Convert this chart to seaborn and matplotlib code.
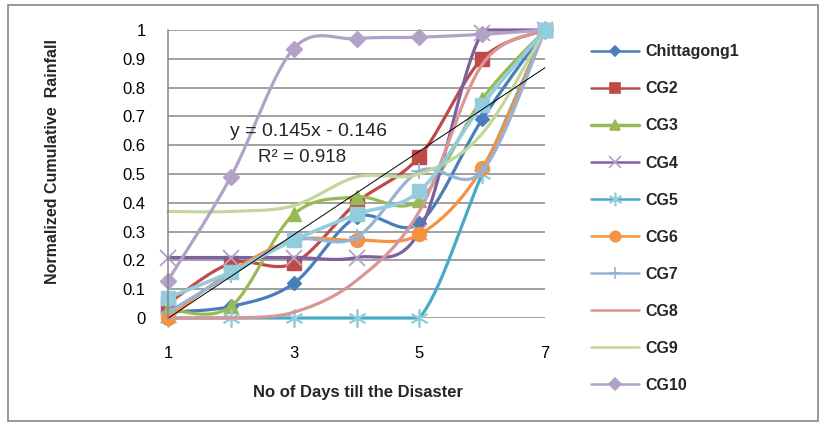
import numpy as np
import pandas as pd
import matplotlib
matplotlib.use("Agg")
import matplotlib.pyplot as plt
import seaborn as sns
from matplotlib.lines import Line2D
from matplotlib.patches import Rectangle

# Datos
dias = [1, 2, 3, 4, 5, 6, 7]
chittagong1 = [0.02, 0.04, 0.12, 0.35, 0.33, 0.69, 1.0]
cg2 = [0.05, 0.19, 0.19, 0.40, 0.56, 0.90, 1.0]
cg3 = [0.03, 0.04, 0.36, 0.42, 0.41, 0.76, 1.0]
cg4 = [0.21, 0.21, 0.21, 0.21, 0.30, 0.99, 1.0]
cg5 = [0.0, 0.0, 0.0, 0.0, 0.0, 0.50, 1.0]
cg6 = [0.0, 0.16, 0.27, 0.27, 0.29, 0.52, 1.0]
cg7 = [0.02, 0.15, 0.27, 0.28, 0.51, 0.51, 1.0]
cg8 = [0.0, 0.0, 0.02, 0.13, 0.37, 0.88, 1.0]
cg9 = [0.37, 0.37, 0.39, 0.49, 0.50, 0.64, 1.0]
cg10 = [0.13, 0.49, 0.935, 0.97, 0.975, 0.985, 1.0]
promedio = [0.07, 0.16, 0.27, 0.36, 0.44, 0.74, 1.0]

# Línea de tendencia indicada en el gráfico
pendiente, intercepto, r2 = 0.145, -0.146, 0.918

series = [
    ("Chittagong1", chittagong1, "#4A7EBB", "D", 7, "#4A7EBB"),
    ("CG2", cg2, "#BE4B48", "s", 10, "#BE4B48"),
    ("CG3", cg3, "#98B954", "^", 10, "#98B954"),
    ("CG4", cg4, "#7D60A0", "x", 12, "#B3A2C7"),
    ("CG5", cg5, "#46AAC5", (6, 2, 0), 13, "#93CDDD"),
    ("CG6", cg6, "#F69240", "o", 10, "#F69240"),
    ("CG7", cg7, "#95B3D7", "+", 12, "#95B3D7"),
    ("CG8", cg8, "#D99694", None, 0, "#D99694"),
    ("CG9", cg9, "#C3D69B", None, 0, "#C3D69B"),
    ("CG10", cg10, "#B3A2C7", "D", 8.5, "#B3A2C7"),
]


def suavizar(x, y, n=30):
    """Curva suavizada tipo Excel (Bezier) entre los puntos, recortada al área del gráfico."""
    p = np.column_stack([x, y]).astype(float)
    out = []
    for i in range(len(p) - 1):
        p0 = p[i - 1] if i > 0 else p[i]
        p1, p2 = p[i], p[i + 1]
        p3 = p[i + 2] if i + 2 < len(p) else p[i + 1]
        c1 = p1 + (p2 - p0) / 6
        c2 = p2 - (p3 - p1) / 6
        t = np.linspace(0, 1, n)[:, None]
        seg = ((1 - t) ** 3) * p1 + 3 * ((1 - t) ** 2) * t * c1 + 3 * (1 - t) * t ** 2 * c2 + t ** 3 * p2
        out.append(seg if i == 0 else seg[1:])
    out = np.vstack(out)
    return out[:, 0], np.clip(out[:, 1], 0, 1)


sns.set_style("white")
plt.rcParams["font.family"] = ["Liberation Sans", "DejaVu Sans"]

fig = plt.figure(figsize=(8.25, 4.26), dpi=100)
ax = fig.add_axes([168 / 825, 1 - 318 / 426, 377 / 825, 288 / 426])

handles = []
for nombre, vals, color, marker, ms, mcolor in series:
    xs, ys = suavizar(dias, vals)
    sns.lineplot(x=xs, y=ys, sort=False, color=color, lw=2.3, ax=ax, estimator=None)
    if marker is not None:
        ax.plot(dias, vals, ls="none", marker=marker, ms=ms, color=mcolor,
                mec=mcolor, mew=1.3 if marker in ("x", "+", (6, 2, 0)) else 1)
    handles.append(Line2D([], [], color=color, lw=1.8 if nombre != "CG3" else 2.5,
                          marker=marker if marker else None, ms=ms * 0.75,
                          mec=mcolor, mfc=mcolor, mew=1.2))

# Serie promedio (sin entrada en la leyenda)
xs, ys = suavizar(dias, promedio)
sns.lineplot(x=xs, y=ys, sort=False, color="#93CDDD", lw=2.6, ax=ax, estimator=None)
ax.plot(dias, promedio, ls="none", marker="s", ms=10.5, color="#93CDDD")

# Tendencia lineal
xt = np.array([dias[0], dias[-1]])
ax.plot(xt, pendiente * xt + intercepto, color="black", lw=0.7)
ax.text(3.24, 0.649, f"y = {pendiente}x - {abs(intercepto)}", ha="center", va="center", fontsize=14)
ax.text(3.13, 0.559, f"R² = {r2}", ha="center", va="center", fontsize=13.5)

ax.set_xlim(1, 7)
ax.set_ylim(0, 1)
ax.set_xticks([1, 3, 5, 7])
ax.set_yticks(np.round(np.arange(0, 1.01, 0.1), 1))
ax.set_yticklabels(["0", "0.1", "0.2", "0.3", "0.4", "0.5", "0.6", "0.7", "0.8", "0.9", "1"])
ax.yaxis.grid(True, color="#868686", lw=1.1)
ax.set_axisbelow(True)
ax.tick_params(axis="both", length=0, labelsize=12, colors="black")
ax.tick_params(axis="y", pad=16)
ax.tick_params(axis="x", pad=20)
for s in ["top", "right", "bottom"]:
    ax.spines[s].set_visible(False)
ax.spines["left"].set_color("#868686")
ax.spines["left"].set_linewidth(1.1)
for artist in ax.lines + ax.collections:
    artist.set_clip_on(False)

fig.text(358 / 825, 1 - 392 / 426, "No of Days till the Disaster", ha="center", va="center",
         fontsize=12, fontweight="bold")
fig.text(53 / 825, 1 - 162 / 426, "Normalized Cumulative  Rainfall", ha="center", va="center",
         rotation=90, fontsize=11.5, fontweight="bold")

leg = fig.legend(handles, [s[0] for s in series], loc="upper left",
                 bbox_to_anchor=(585 / 825, 1 - 38 / 426), frameon=False,
                 prop={"weight": "bold", "size": 11.5}, handlelength=3.0,
                 handletextpad=0.35, labelspacing=1.38, borderaxespad=0)

fig.patches.append(Rectangle((8 / 825, 1 - 421 / 426), 810 / 825, 416 / 426,
                             transform=fig.transFigure, fill=False, ec="#868686", lw=1.2))

fig.savefig("out.png", dpi=100)
